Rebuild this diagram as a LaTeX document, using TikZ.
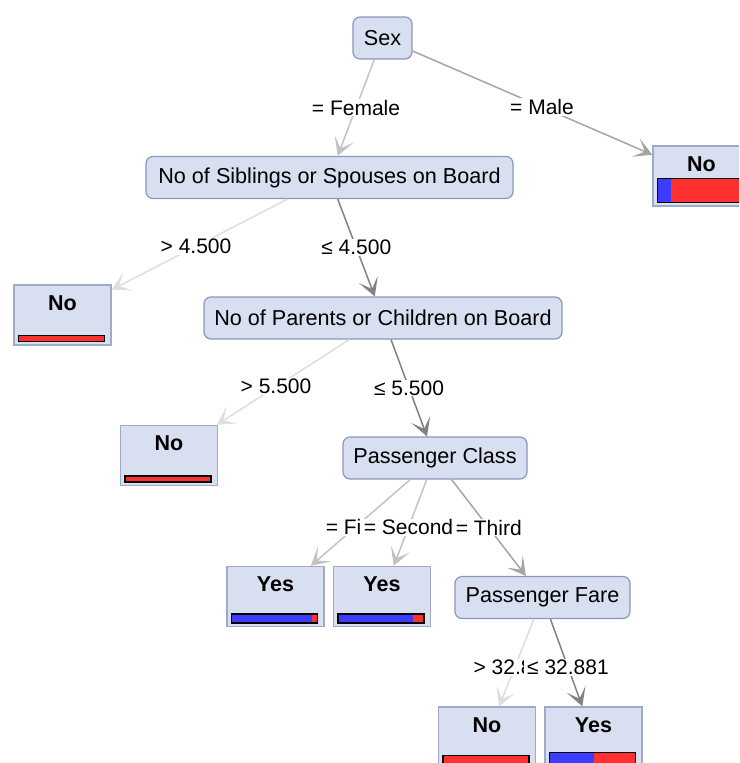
\documentclass[tikz,border=0pt]{standalone}
\usepackage{fontspec}
\setmainfont{Liberation Sans}
\usetikzlibrary{arrows.meta,calc}

\definecolor{nodefill}{RGB}{216,223,240}
\definecolor{nodeline}{RGB}{138,152,190}
\definecolor{leafline}{RGB}{160,170,200}
\definecolor{barred}{RGB}{255,48,48}
\definecolor{barblue}{RGB}{60,60,255}
\definecolor{edgedark}{RGB}{130,130,130}
\definecolor{edgemid}{RGB}{165,165,165}
\definecolor{edgelight}{RGB}{195,195,195}
\definecolor{edgefaint}{RGB}{222,222,222}

\tikzset{
  split/.style={draw=nodeline, fill=nodefill, line width=1.2pt, rounded corners=7pt,
    inner sep=0pt, minimum height=42pt, font=\fontsize{21.6}{25}\selectfont},
  leaf/.style={draw=leafline, fill=nodefill, line width=1.5pt, inner sep=0pt,
    minimum width=97pt, minimum height=60pt},
  leaftext/.style={inner sep=0pt, font=\fontsize{21.5}{25}\selectfont\bfseries},
  edge/.style={line width=1.5pt, -{Stealth[length=18pt, width=20pt, inset=10pt]}},
  elabel/.style={fill=white, inner xsep=3pt, inner ysep=1pt, font=\fontsize{21}{24}\selectfont},
}

% leaf: name, centre x, centre y, class, share of "Yes", bar height
\newcommand\leafnode[6]{%
  \node[leaf] (#1) at (#2,#3) {};
  \node[leaftext] (#1-t) at (#2,#3-12) {#4};
  \pgfmathsetmacro\barL{#2-44}
  \pgfmathsetmacro\barR{#2+42}
  \pgfmathsetmacro\barB{#3+26.5}
  \pgfmathsetmacro\barT{#3+26.5-#6}
  \pgfmathsetmacro\barM{\barL+86*#5}
  \fill[barblue] (\barL,\barT) rectangle (\barM,\barB);
  \fill[barred] (\barM,\barT) rectangle (\barR,\barB);
  \draw[line width=1.3pt] (\barL,\barT) rectangle (\barR,\barB);
}

\begin{document}
\begin{tikzpicture}[x=1pt,y=-1pt]
\clip (0,0) rectangle (739,763);
\fill[white] (0,0) rectangle (739,763);

% split nodes
\node[split, minimum width=59pt]  (sex)  at (382.5,38)  {Sex};
\node[split, minimum width=367pt] (sib)  at (329.5,177.5) {No of Siblings or Spouses on Board};
\node[split, minimum width=358pt] (par)  at (383,318)   {No of Parents or Children on Board};
\node[split, minimum width=184pt] (cls)  at (435,458)   {Passenger Class};
\node[split, minimum width=175pt] (fare) at (542.5,597.5) {Passenger Fare};

% leaves
\leafnode{male}{701.5}{176}{No}{0.16}{24}
\leafnode{sibno}{62.5}{315}{No}{0}{6}
\leafnode{parno}{169}{455.5}{No}{0}{6}
\leafnode{first}{275.5}{596.5}{Yes}{0.94}{9}
\leafnode{second}{382}{596.5}{Yes}{0.87}{9}
\leafnode{fareno}{487}{737}{No}{0}{8}
\leafnode{fareyes}{593.5}{737}{Yes}{0.52}{11}

% connectors
\draw[edge, edgelight] (sex) -- (sib);
\draw[edge, edgemid]   (sex) -- (male);
\draw[edge, edgefaint] (sib) -- (sibno);
\draw[edge, edgedark]  (sib) -- (par);
\draw[edge, edgefaint] (par) -- (parno);
\draw[edge, edgedark]  (par) -- (cls);
\draw[edge, edgelight] (cls) -- (first);
\draw[edge, edgelight] (cls) -- (second);
\draw[edge, edgemid]   (cls) -- (fare);
\draw[edge, edgefaint] (fare) -- (fareno);
\draw[edge, edgedark]  (fare) -- (fareyes);

% connector labels (later ones lie over earlier ones)
\node[elabel] (l1)  at ($(sex)!0.5!(sib)$)   {= Female};
\node[elabel] (l2)  at ($(sex)!0.5!(male)$)  {= Male};
\node[elabel] (l3)  at ($(sib)!0.5!(sibno)$) {> 4.500};
\node[elabel] (l4)  at ($(sib)!0.5!(par)$)   {≤ 4.500};
\node[elabel] (l5)  at ($(par)!0.5!(parno)$) {> 5.500};
\node[elabel] (l6)  at ($(par)!0.5!(cls)$)   {≤ 5.500};
\node[elabel] (l7)  at ($(cls)!0.5!(first)$) {= First};
\node[elabel] (l8)  at ($(cls)!0.5!(second)$) {= Second};
\node[elabel] (l9)  at ($(cls)!0.5!(fare)$)  {= Third};
\node[elabel] (l10) at ($(fare)!0.5!(fareno)$) {> 32.881};
\node[elabel] (l11) at ($(fare)!0.5!(fareyes)$) {≤ 32.881};
\end{tikzpicture}
\end{document}
